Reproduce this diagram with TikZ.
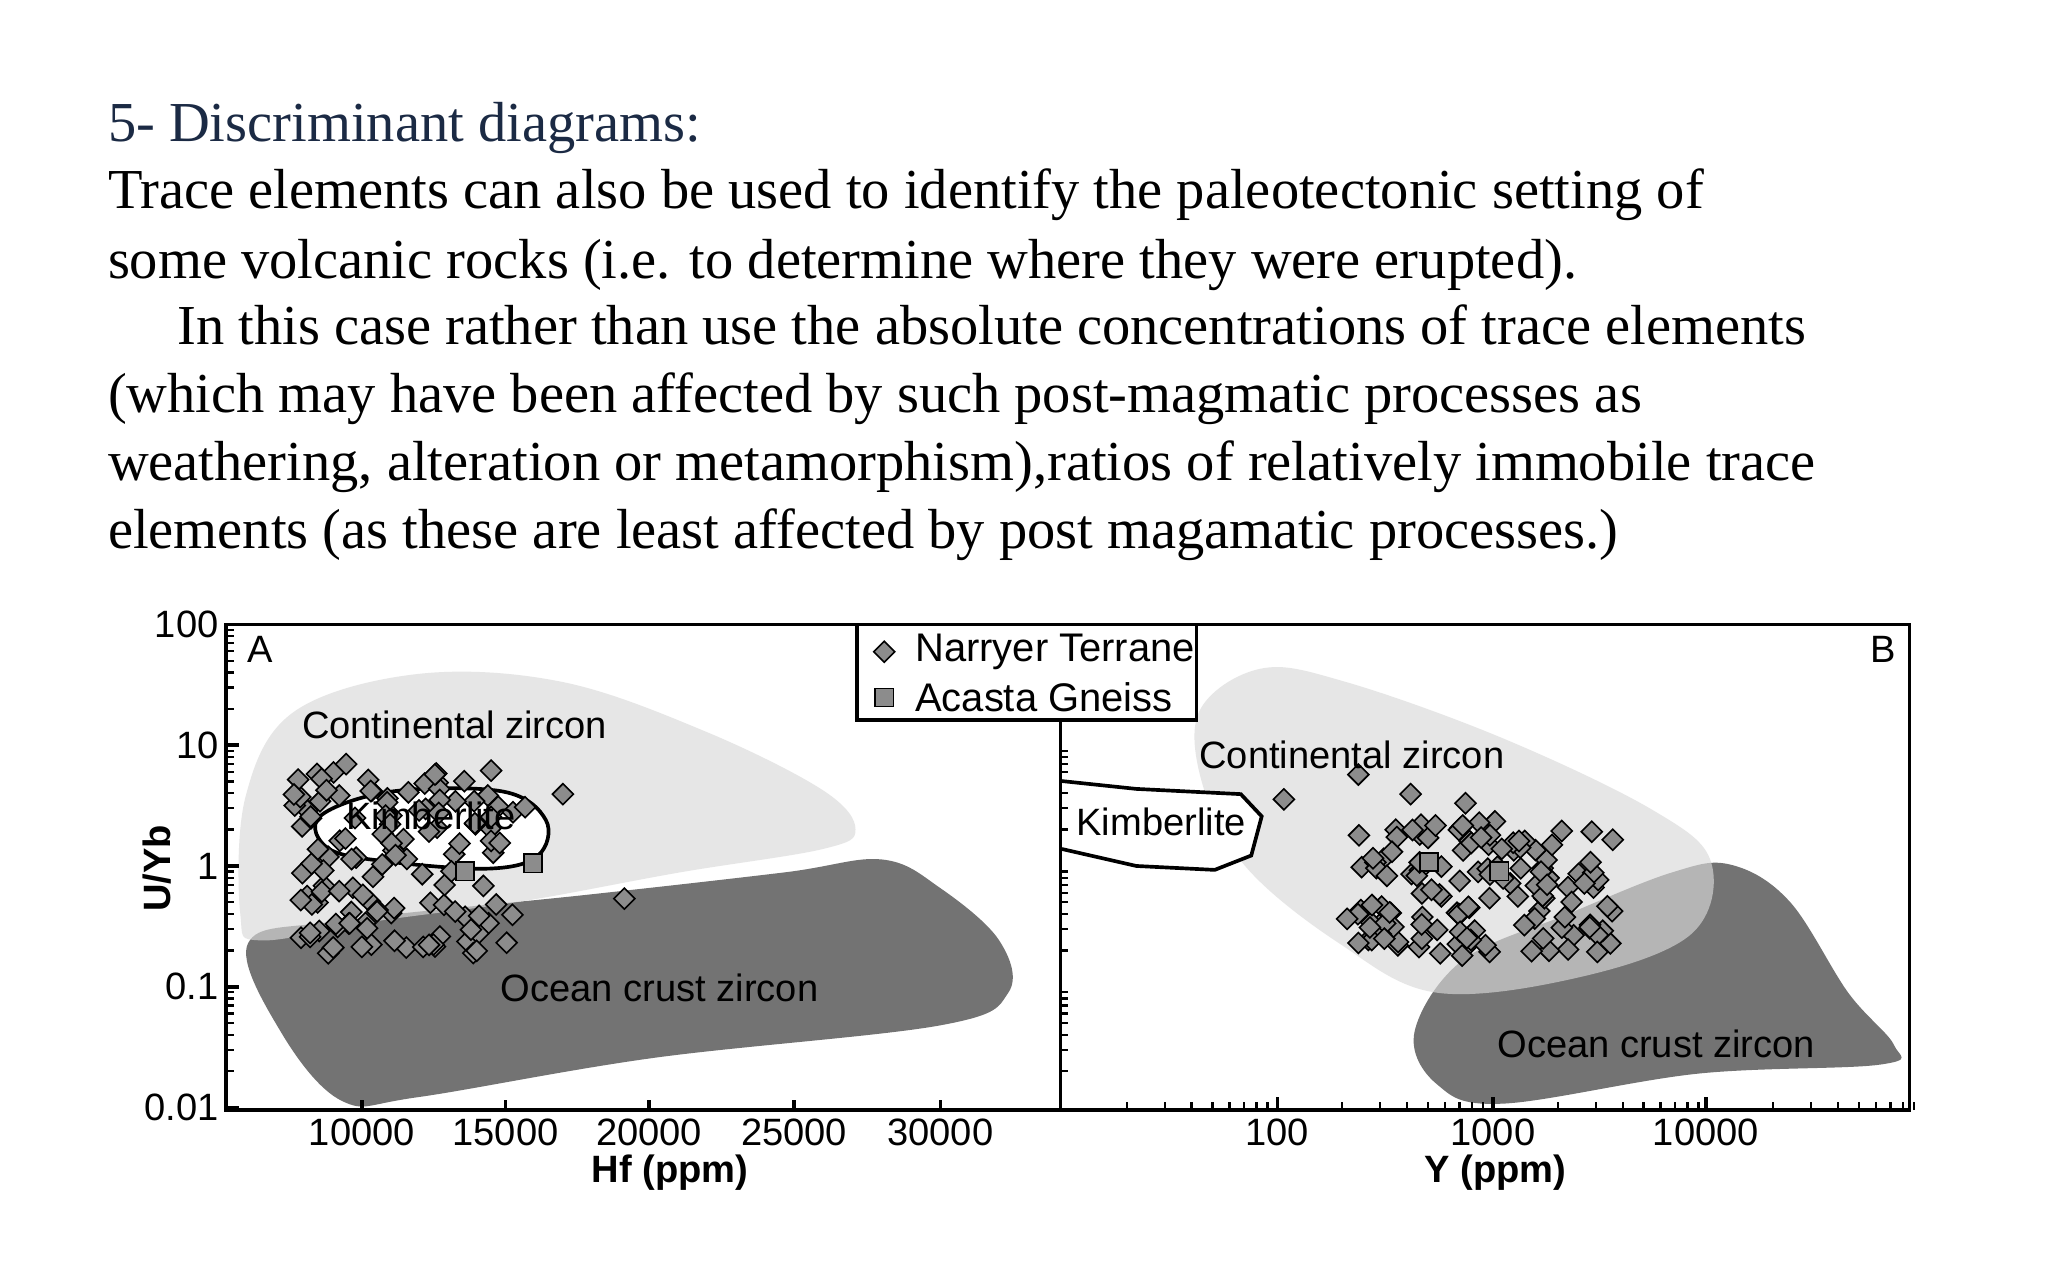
\documentclass[tikz,border=0pt]{standalone}
\usepackage{fontspec}
\setmainfont{Liberation Serif}
\newfontfamily\plotfont{Liberation Sans}
\begin{document}
\begin{tikzpicture}[x=0.1mm,y=-0.1mm,
  body/.style={anchor=base west,inner sep=0,font=\fontsize{12.3}{14}\selectfont},
  lbl/.style={inner sep=0,font=\plotfont\fontsize{8.3}{10}\selectfont},
  dia/.style={draw=black,fill=black!45,line width=0.35pt},
  sq/.style={draw=black,fill=black!45,line width=0.35pt},
  ax/.style={line width=0.8pt}]
\useasboundingbox[fill=white] (0,0) rectangle (1568,980);
\definecolor{navy}{HTML}{1B2A44}
\node[body,text=navy] (t0) at (82,108) {5- Discriminant diagrams:};
\node[body] (t1) at (82,160) {Trace elements can also be used to identify the paleotectonic setting of};
\node[body] (t2) at (82,213) {some volcanic rocks (i.e. to determine where they were erupted).};
\node[body] (t3) at (135,264) {In this case rather than use the absolute concentrations of trace elements};
\node[body] (t4) at (82,316) {(which may have been affected by such post-magmatic processes as};
\node[body] (t5) at (82,368) {weathering, alteration or metamorphism),ratios of relatively immobile trace};
\node[body] (t6) at (82,420) {elements (as these are least affected by post magamatic processes.)};
% ----- left panel shapes
\fill[black!55] plot[smooth cycle,tension=0.6] coordinates{(190,722)(260,705)(450,685)(600,668)(675,658)(720,680)(765,720)(772,760)(720,785)(500,810)(320,840)(262,843)(215,790)};
\fill[black!15,opacity=0.65] plot[smooth cycle,tension=0.6] coordinates{(184,700)(188,610)(225,545)(320,516)(430,522)(540,560)(630,605)(655,635)(630,650)(520,668)(400,690)(290,705)(200,720)};
\draw[fill=white,line width=0.8pt] plot[smooth cycle,tension=0.6] coordinates{(245,625)(300,606)(385,606)(418,628)(412,655)(375,665)(300,660)(252,650)};
% ----- right panel shapes
\fill[black!55] plot[smooth cycle,tension=0.6] coordinates{(1083,790)(1120,735)(1200,700)(1280,668)(1325,662)(1370,690)(1415,760)(1450,800)(1440,815)(1300,822)(1150,845)(1100,830)};
\fill[black!15,opacity=0.65] plot[smooth cycle,tension=0.6] coordinates{(918,545)(965,512)(1030,522)(1150,565)(1265,620)(1310,660)(1295,715)(1210,748)(1100,760)(1025,722)(955,665)(922,605)};
\draw[fill=white,line width=0.8pt] (813,598) -- (870,604) -- (950,608) -- (966,625) -- (958,655) -- (930,666) -- (870,663) -- (813,650);
% ----- data
\pgfmathsetseed{7}
\foreach \i in {1,...,120}{
  \pgfmathsetmacro\px{225+170*rnd}
  \pgfmathsetmacro\py{590+140*rnd}
  \draw[dia] (\px,\py) +(0,-8) -- +(8,0) -- +(0,8) -- +(-8,0) -- cycle;}
\foreach \px/\py in {265/585,333/593,376/590,431/608,478/688,402/618,250/605}{
  \draw[dia] (\px,\py) +(0,-8) -- +(8,0) -- +(0,8) -- +(-8,0) -- cycle;}
\foreach \i in {1,...,130}{
  \pgfmathsetmacro\px{1030+210*rnd}
  \pgfmathsetmacro\py{628+105*rnd}
  \draw[dia] (\px,\py) +(0,-8) -- +(8,0) -- +(0,8) -- +(-8,0) -- cycle;}
\foreach \px/\py in {983/612,1040/593,1080/608,1122/615,1040/722}{
  \draw[dia] (\px,\py) +(0,-8) -- +(8,0) -- +(0,8) -- +(-8,0) -- cycle;}
\foreach \px/\py in {356/667,408/661,1094/660,1148/667}{
  \draw[sq] (\px-7,\py-7) rectangle (\px+7,\py+7);}
% ----- frames
\draw[ax] (173,478) rectangle (1462,850);
\draw[ax] (812,478) -- (812,850);
% left y axis ticks
\foreach \d [count=\j from 0] in {100,10,1,0.1,0.01}{
  \pgfmathsetmacro\yy{478+92.5*\j}
  \draw[ax] (173,\yy) -- (183,\yy);
  \node[lbl,anchor=east] at (168,\yy) {\d};}
\foreach \j in {0,...,3}{\foreach \k in {2,...,9}{
  \pgfmathsetmacro\yy{478+92.5*(\j+1)-92.5*log10(\k)}
  \draw[line width=0.5pt] (173,\yy) -- (179,\yy);}}
\foreach \j in {1,...,3}{\foreach \k in {2,...,9}{
  \pgfmathsetmacro\yy{478+92.5*(\j+1)-92.5*log10(\k)}
  \draw[line width=0.5pt] (812,\yy) -- (818,\yy);}}
% left x ticks
\foreach \v/\xx in {10000/277,15000/387,20000/497,25000/608,30000/720}{
  \draw[ax] (\xx,850) -- (\xx,842);
  \node[lbl,anchor=north] at (\xx,856) {\v};}
% right x ticks
\foreach \v/\xx in {100/978,1000/1143,10000/1306}{
  \draw[ax] (\xx,850) -- (\xx,840);
  \node[lbl,anchor=north] at (\xx,856) {\v};}
\foreach \j in {0,...,3}{\foreach \k in {2,...,9}{
  \pgfmathsetmacro\xx{813+165*\j+165*log10(\k)}
  \draw[line width=0.5pt] (\xx,850) -- (\xx,844);}}
% labels
\node[lbl,font=\plotfont\bfseries\fontsize{8.3}{10}\selectfont,rotate=90] (yl) at (120,665) {U/Yb};
\node[lbl,font=\plotfont\bfseries\fontsize{8.3}{10}\selectfont] (hf) at (513,898) {Hf (ppm)};
\node[lbl,font=\plotfont\bfseries\fontsize{8.3}{10}\selectfont] (yp) at (1145,898) {Y (ppm)};
\node[lbl] (A) at (199,497) {A};
\node[lbl] (B) at (1442,497) {B};
\node[lbl] (cz1) at (348,555) {Continental zircon};
\node[lbl] (k1) at (330,625) {Kimberlite};
\node[lbl] (oc1) at (505,756) {Ocean crust zircon};
\node[lbl] (cz2) at (1035,578) {Continental zircon};
\node[lbl] (k2) at (889,629) {Kimberlite};
\node[lbl] (oc2) at (1268,799) {Ocean crust zircon};
% legend
\draw[ax,fill=white] (656,478) rectangle (916,551);
\draw[dia] (677,499) +(0,-8) -- +(8,0) -- +(0,8) -- +(-8,0) -- cycle;
\draw[sq] (670,527) rectangle (684,541);
\node[lbl,anchor=west,font=\plotfont\fontsize{8.7}{11}\selectfont] (l1) at (700,499) {Narryer Terrane};
\node[lbl,anchor=west,font=\plotfont\fontsize{8.7}{11}\selectfont] (l2) at (700,534) {Acasta Gneiss};
\end{tikzpicture}
\end{document}
